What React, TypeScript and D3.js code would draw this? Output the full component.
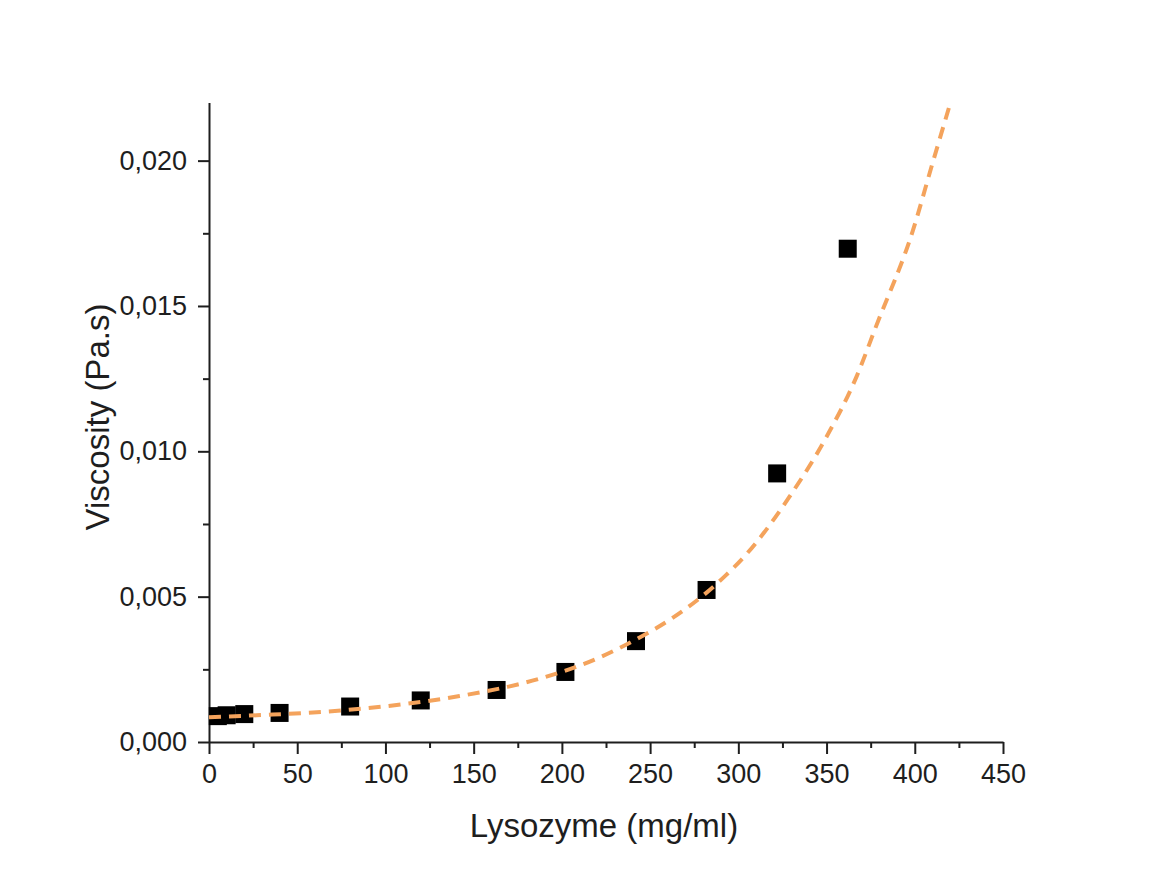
import React, { useEffect, useRef } from "react";
import * as d3 from "d3";

// measured points: lysozyme concentration (mg/ml) vs viscosity (Pa.s)
const concentration = [5, 10, 20, 40, 80, 120, 163, 202, 242, 282, 322, 362];
const viscosity = [
  0.00089, 0.00092, 0.00096, 0.001, 0.00122, 0.00143, 0.00179, 0.00241,
  0.00347, 0.00523, 0.00924, 0.01697,
];

// fitted curve
const fitX = [0, 27, 65, 103, 142, 188, 221, 242, 262, 282, 293, 305, 329, 350, 367, 378, 399, 410, 420];
const fitY = [
  0.00085, 0.00092, 0.00104, 0.00125, 0.00158, 0.00219, 0.0029, 0.00353,
  0.00424, 0.00514, 0.00574, 0.00649, 0.00844, 0.0105, 0.01257, 0.01429,
  0.01761, 0.0199, 0.02195,
];

const xMajorTicks = [0, 50, 100, 150, 200, 250, 300, 350, 400, 450];
const xMinorTicks = [25, 75, 125, 175, 225, 275, 325, 375, 425];
const yMajorTicks = [0, 0.005, 0.01, 0.015, 0.02];
const yMinorTicks = [0.0025, 0.0075, 0.0125, 0.0175];

const xTitle = "Lysozyme (mg/ml)";
const yTitle = "Viscosity (Pa.s)";

const width = 1166;
const height = 894;
const margin = { top: 102.5, right: 163, bottom: 152, left: 209 };
const font = "'Liberation Sans', Arial, sans-serif";
const ink = "#1e1e1e";

const commaFormat = d3.formatLocale({
  decimal: ",",
  thousands: ".",
  grouping: [3],
  currency: ["", ""],
}).format(".3f");

const App: React.FC = () => {
  const svgRef = useRef<SVGSVGElement>(null);

  useEffect(() => {
    if (!svgRef.current) return;
    const svg = d3.select(svgRef.current);
    svg.selectAll("*").remove();

    const x = d3
      .scaleLinear()
      .domain([0, 450])
      .range([margin.left, width - margin.right]);
    const y = d3
      .scaleLinear()
      .domain([0, 0.022])
      .range([height - margin.bottom, margin.top]);

    const y0 = height - margin.bottom;

    // x axis
    const xAxis = svg
      .append("g")
      .attr("transform", `translate(0,${y0})`)
      .call(
        d3
          .axisBottom(x)
          .tickValues(xMajorTicks)
          .tickSize(12)
          .tickSizeOuter(0)
          .tickPadding(10)
          .tickFormat((d) => String(d))
      );
    svg
      .append("g")
      .attr("transform", `translate(0,${y0})`)
      .call(d3.axisBottom(x).tickValues(xMinorTicks).tickSize(6).tickSizeOuter(0).tickFormat(() => ""))
      .select(".domain")
      .remove();

    // y axis
    const yAxis = svg
      .append("g")
      .attr("transform", `translate(${margin.left},0)`)
      .call(
        d3
          .axisLeft(y)
          .tickValues(yMajorTicks)
          .tickSize(11)
          .tickSizeOuter(0)
          .tickPadding(11)
          .tickFormat((d) => commaFormat(d as number))
      );
    svg
      .append("g")
      .attr("transform", `translate(${margin.left},0)`)
      .call(d3.axisLeft(y).tickValues(yMinorTicks).tickSize(6).tickSizeOuter(0).tickFormat(() => ""))
      .select(".domain")
      .remove();

    svg.selectAll(".domain").attr("stroke", ink).attr("stroke-width", 2);
    svg.selectAll(".tick line").attr("stroke", ink).attr("stroke-width", 2);
    [xAxis, yAxis].forEach((g) =>
      g
        .selectAll(".tick text")
        .attr("fill", ink)
        .style("font-family", font)
        .style("font-size", "27px")
    );

    // data squares
    const size = 18;
    svg
      .append("g")
      .selectAll("rect")
      .data(concentration)
      .join("rect")
      .attr("x", (d) => x(d) - size / 2)
      .attr("y", (d, i) => y(viscosity[i]) - size / 2)
      .attr("width", size)
      .attr("height", size)
      .attr("fill", "#000");

    // fit curve
    const line = d3
      .line<number>()
      .x((d) => x(d))
      .y((d, i) => y(fitY[i]))
      .curve(d3.curveMonotoneX);
    svg
      .append("path")
      .datum(fitX)
      .attr("d", line)
      .attr("fill", "none")
      .attr("stroke", "#f4a35c")
      .attr("stroke-width", 4)
      .attr("stroke-dasharray", "12 8");

    // axis titles
    svg
      .append("text")
      .attr("x", 604)
      .attr("y", 837)
      .attr("text-anchor", "middle")
      .attr("fill", ink)
      .style("font-family", font)
      .style("font-size", "33px")
      .text(xTitle);

    svg
      .append("text")
      .attr("transform", `translate(109,417) rotate(-90)`)
      .attr("text-anchor", "middle")
      .attr("fill", ink)
      .style("font-family", font)
      .style("font-size", "33px")
      .text(yTitle);
  }, []);

  return (
    <div style={{ position: "absolute", left: 0, top: 0 }}>
      <svg ref={svgRef} width={width} height={height} style={{ display: "block", background: "#fff" }} />
    </div>
  );
};

export default App;
